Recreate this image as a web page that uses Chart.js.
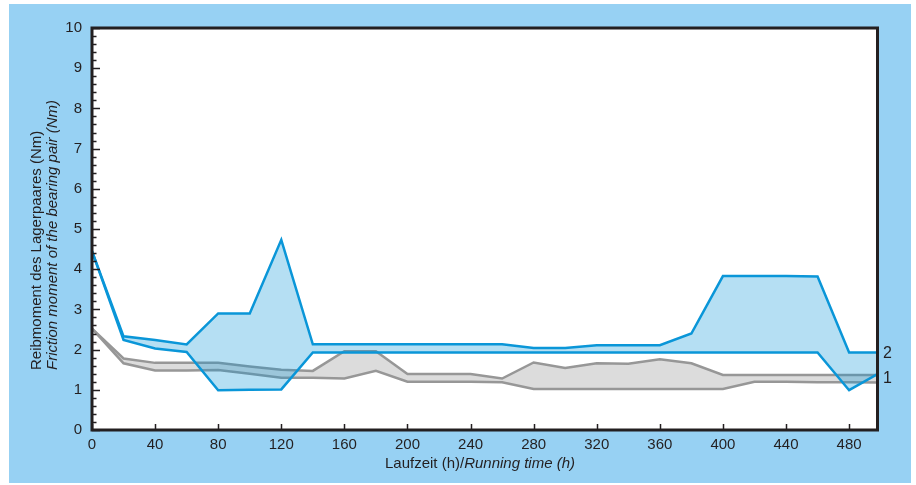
<!DOCTYPE html>
<html>
<head>
<meta charset="utf-8">
<script src="https://cdn.jsdelivr.net/npm/chart.js@4.4.1/dist/chart.umd.min.js"></script>
<style>
  html, body { margin: 0; padding: 0; background: #fff; }
  #panel { position: absolute; left: 9px; top: 4px; width: 902px; height: 479px; background: #97d1f3; }
  #wrap { position: absolute; left: 0; top: 0; width: 916px; height: 485px; }
</style>
</head>
<body>
<div id="panel"></div>
<div id="wrap"><canvas id="chart" width="916" height="485"></canvas></div>
<script>
// running time in hours
const hours = [0, 20, 40, 60, 80, 100, 120, 140, 160, 180, 200, 220, 240,
               260, 280, 300, 320, 340, 360, 380, 400, 420, 440, 460, 480, 498];

// bearing pair 2 (blue band)
const pair2Upper = [4.45, 2.33, 2.24, 2.13, 2.9, 2.9, 4.73, 2.13, 2.13, 2.13, 2.13, 2.13, 2.13,
                    2.13, 2.04, 2.04, 2.11, 2.11, 2.11, 2.4, 3.83, 3.83, 3.83, 3.82, 1.93, 1.93];
const pair2Lower = [4.45, 2.24, 2.03, 1.94, 0.99, 1.0, 1.01, 1.93, 1.93, 1.93, 1.93, 1.93, 1.93,
                    1.93, 1.93, 1.93, 1.93, 1.93, 1.93, 1.93, 1.93, 1.93, 1.93, 1.93, 0.99, 1.39];

// bearing pair 1 (grey band)
const pair1Upper = [2.52, 1.78, 1.67, 1.67, 1.67, 1.58, 1.5, 1.47, 1.96, 1.96, 1.39, 1.39, 1.39,
                    1.28, 1.68, 1.54, 1.66, 1.65, 1.76, 1.66, 1.37, 1.37, 1.37, 1.37, 1.37, 1.37];
const pair1Lower = [2.52, 1.66, 1.48, 1.48, 1.49, 1.4, 1.3, 1.3, 1.28, 1.47, 1.2, 1.2, 1.2,
                    1.19, 1.02, 1.02, 1.02, 1.02, 1.02, 1.02, 1.02, 1.2, 1.2, 1.19, 1.19, 1.18];

const xTickValues = [0, 40, 80, 120, 160, 200, 240, 280, 320, 360, 400, 440, 480];
const yTickValues = [0, 1, 2, 3, 4, 5, 6, 7, 8, 9, 10];

const yTitleDe = 'Reibmoment des Lagerpaares (Nm)';
const yTitleEn = 'Friction moment of the bearing pair (Nm)';
const xTitleDe = 'Laufzeit (h)/';
const xTitleEn = 'Running time (h)';

const INK = '#231f20';
const BLUE = '#0a96d8';
const BLUE_FILL = 'rgba(10, 150, 216, 0.3)';
const GREY = '#979797';
const GREY_FILL = '#dcdcdc';
const FONT = '"Liberation Sans", Arial, sans-serif';

const toPoints = (values) => hours.map((h, i) => ({ x: h, y: values[i] }));

const lineStyle = (colour) => ({
    borderColor: colour,
    borderWidth: 2.5,
    pointRadius: 0,
    tension: 0,
    borderJoinStyle: 'miter'
});

// white plot area, inward tick marks, black frame and the free texts
const frameAndTicks = {
    id: 'frameAndTicks',
    beforeDraw(chart) {
        const { ctx, chartArea: a } = chart;
        ctx.save();
        ctx.fillStyle = '#ffffff';
        ctx.fillRect(a.left, a.top, a.right - a.left, a.bottom - a.top);
        ctx.restore();
    },
    afterDatasetsDraw(chart) {
        const { ctx, chartArea: a, scales: { x, y } } = chart;
        ctx.save();
        ctx.strokeStyle = INK;
        ctx.lineWidth = 1.5;
        ctx.beginPath();
        for (let i = 0; i <= 50; i++) {
            const py = Math.round(y.getPixelForValue(i / 5)) + 0.5;
            const len = i % 5 === 0 ? 8 : 4.5;
            ctx.moveTo(a.left, py);
            ctx.lineTo(a.left + len, py);
        }
        for (const v of xTickValues) {
            const px = Math.round(x.getPixelForValue(v)) + 0.5;
            ctx.moveTo(px, a.bottom);
            ctx.lineTo(px, a.bottom - 6);
        }
        ctx.stroke();

        ctx.lineWidth = 3;
        ctx.strokeRect(a.left, a.top, a.right - a.left, a.bottom - a.top);
        ctx.restore();
    },
    afterDraw(chart) {
        const { ctx, scales: { y } } = chart;
        ctx.save();
        ctx.fillStyle = INK;
        ctx.textBaseline = 'middle';

        // y axis title, two lines, rotated
        ctx.save();
        ctx.translate(37, 370);
        ctx.rotate(-Math.PI / 2);
        ctx.textAlign = 'left';
        ctx.font = '15px ' + FONT;
        ctx.fillText(yTitleDe, 0, 0);
        ctx.restore();

        ctx.save();
        ctx.translate(53, 370);
        ctx.rotate(-Math.PI / 2);
        ctx.textAlign = 'left';
        ctx.font = 'italic 15px ' + FONT;
        ctx.fillText(yTitleEn, 0, 0);
        ctx.restore();

        // x axis title, mixed upright / italic
        ctx.font = '15px ' + FONT;
        const w1 = ctx.measureText(xTitleDe).width;
        ctx.font = 'italic 15px ' + FONT;
        const w2 = ctx.measureText(xTitleEn).width;
        const start = 480 - (w1 + w2) / 2;
        ctx.textAlign = 'left';
        ctx.font = '15px ' + FONT;
        ctx.fillText(xTitleDe, start, 464);
        ctx.font = 'italic 15px ' + FONT;
        ctx.fillText(xTitleEn, start + w1, 464);

        // band labels at the right edge
        ctx.font = '16px ' + FONT;
        ctx.fillText('2', 883, y.getPixelForValue(1.9));
        ctx.fillText('1', 883, y.getPixelForValue(1.28));
        ctx.restore();
    }
};

const config = {
    type: 'line',
    data: {
        datasets: [
            { label: 'pair 2 lower', data: toPoints(pair2Lower), fill: false, ...lineStyle(BLUE) },
            { label: 'pair 2 upper', data: toPoints(pair2Upper), fill: '-1', backgroundColor: BLUE_FILL, ...lineStyle(BLUE) },
            { label: 'pair 1 lower', data: toPoints(pair1Lower), fill: false, ...lineStyle(GREY) },
            { label: 'pair 1 upper', data: toPoints(pair1Upper), fill: '-1', backgroundColor: GREY_FILL, ...lineStyle(GREY) }
        ]
    },
    options: {
        responsive: false,
        animation: false,
        devicePixelRatio: 1,
        layout: { padding: { top: 28, right: 38.5, left: 0, bottom: 0 } },
        plugins: {
            legend: { display: false },
            tooltip: { enabled: false }
        },
        scales: {
            x: {
                type: 'linear',
                min: 0,
                max: 498,
                afterBuildTicks: (scale) => { scale.ticks = xTickValues.map(v => ({ value: v })); },
                afterFit: (scale) => { scale.height = 55; },
                grid: { display: false, drawTicks: false },
                border: { display: false },
                ticks: { color: INK, font: { family: FONT, size: 15 }, padding: 6, maxRotation: 0, autoSkip: false }
            },
            y: {
                min: 0,
                max: 10,
                afterBuildTicks: (scale) => { scale.ticks = yTickValues.map(v => ({ value: v })); },
                afterFit: (scale) => { scale.width = 92; },
                grid: { display: false, drawTicks: false },
                border: { display: false },
                ticks: { color: INK, font: { family: FONT, size: 15 }, padding: 10 }
            }
        }
    },
    plugins: [frameAndTicks]
};

new Chart(document.getElementById('chart'), config);
</script>
</body>
</html>
